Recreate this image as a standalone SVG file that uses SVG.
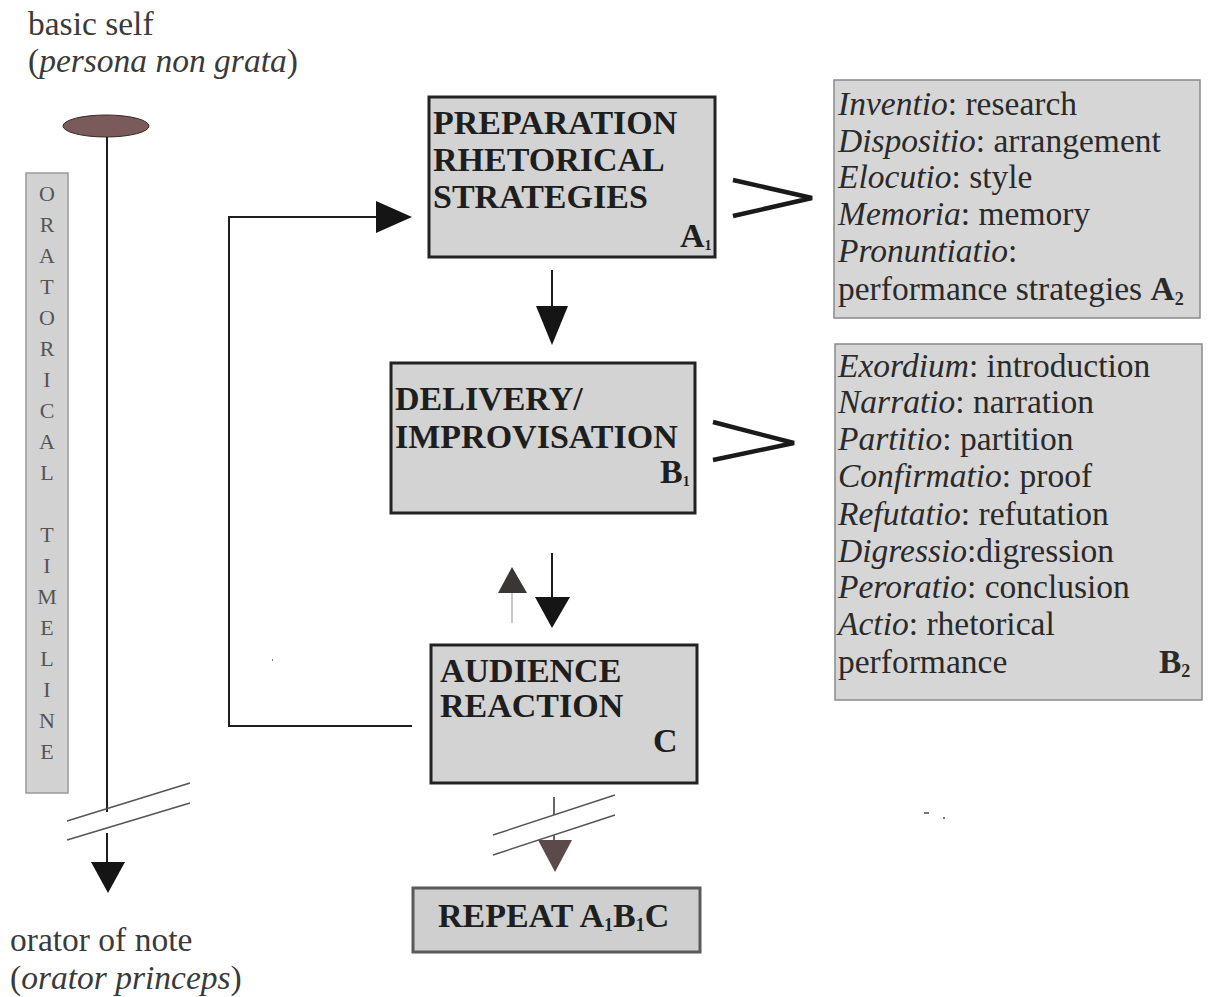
<svg xmlns="http://www.w3.org/2000/svg" width="1210" height="997" viewBox="0 0 1210 997">
<style>
  .title { font-family: "Liberation Serif", "Times New Roman", serif; font-weight: bold; font-size: 34px; fill: #1e1e1e; }
  .list { font-family: "Liberation Serif", "Times New Roman", serif; font-size: 33.5px; fill: #2a2a2a; }
  .label { font-family: "Liberation Serif", "Times New Roman", serif; font-size: 33.5px; fill: #3a3a3a; }
  .tl { font-family: "Liberation Serif", "Times New Roman", serif; font-size: 22px; fill: #555; text-anchor: middle; }
  .box { fill: #d3d3d3; stroke: #222; stroke-width: 3; }
  .panel { fill: #d6d6d6; stroke: #8a8a8a; stroke-width: 1.5; }
  .conn { stroke: #1e1e1e; stroke-width: 2; fill: none; }
  .brk { stroke: #555; stroke-width: 1.5; fill: none; }
  .chev { stroke: #1a1a1a; stroke-width: 4.5; fill: none; stroke-linejoin: miter; }
  .head { fill: #151515; }
</style>
<rect width="1210" height="997" fill="#ffffff"/>

<g id="top-label">
  <text class="label" x="28" y="35">basic self</text>
  <text class="label" x="28" y="72">(<tspan font-style="italic">persona non grata</tspan>)</text>
</g>

<g id="bottom-label">
  <text class="label" x="10" y="951">orator of note</text>
  <text class="label" x="10" y="989">(<tspan font-style="italic">orator princeps</tspan>)</text>
</g>

<g id="timeline-start">
  <ellipse cx="106" cy="126" rx="43" ry="11" fill="#7a5a5a" stroke="#3a2a2a" stroke-width="1"/>
</g>

<g id="timeline-label">
  <rect x="26" y="173" width="42" height="620" fill="#d2d2d2" stroke="#9a9a9a" stroke-width="1.5"/>
  <text class="tl" x="47" y="201">O</text>
  <text class="tl" x="47" y="232">R</text>
  <text class="tl" x="47" y="263">A</text>
  <text class="tl" x="47" y="294">T</text>
  <text class="tl" x="47" y="325">O</text>
  <text class="tl" x="47" y="356">R</text>
  <text class="tl" x="47" y="387">I</text>
  <text class="tl" x="47" y="418">C</text>
  <text class="tl" x="47" y="449">A</text>
  <text class="tl" x="47" y="480">L</text>
  <text class="tl" x="47" y="542">T</text>
  <text class="tl" x="47" y="573">I</text>
  <text class="tl" x="47" y="604">M</text>
  <text class="tl" x="47" y="635">E</text>
  <text class="tl" x="47" y="666">L</text>
  <text class="tl" x="47" y="697">I</text>
  <text class="tl" x="47" y="728">N</text>
  <text class="tl" x="47" y="759">E</text>
</g>

<g id="node-A1">
  <rect class="box" x="429" y="97" width="286" height="160"/>
  <text class="title" x="433" y="134">PREPARATION</text>
  <text class="title" x="433" y="171">RHETORICAL</text>
  <text class="title" x="433" y="208">STRATEGIES</text>
  <text class="title" x="680" y="247" font-size="24">A<tspan font-size="14" dy="3">1</tspan></text>
</g>

<g id="node-A2">
  <rect class="panel" x="834" y="80" width="366" height="238"/>
  <text class="list" x="838" y="115"><tspan font-style="italic">Inventio</tspan>: research</text>
  <text class="list" x="838" y="152"><tspan font-style="italic">Dispositio</tspan>: arrangement</text>
  <text class="list" x="838" y="188"><tspan font-style="italic">Elocutio</tspan>: style</text>
  <text class="list" x="838" y="225"><tspan font-style="italic">Memoria</tspan>: memory</text>
  <text class="list" x="838" y="262"><tspan font-style="italic">Pronuntiatio</tspan>:</text>
  <text class="list" x="838" y="300">performance strategies <tspan font-weight="bold">A</tspan><tspan font-weight="bold" font-size="18" dy="5">2</tspan></text>
</g>

<g id="node-B1">
  <rect class="box" x="391" y="363" width="304" height="150"/>
  <text class="title" x="395" y="410">DELIVERY/</text>
  <text class="title" x="395" y="448">IMPROVISATION</text>
  <text class="title" x="660" y="483" font-size="24">B<tspan font-size="14" dy="3">1</tspan></text>
</g>

<g id="node-B2">
  <rect class="panel" x="835" y="344" width="367" height="356"/>
  <text class="list" x="838" y="377"><tspan font-style="italic">Exordium</tspan>: introduction</text>
  <text class="list" x="838" y="413"><tspan font-style="italic">Narratio</tspan>: narration</text>
  <text class="list" x="838" y="450"><tspan font-style="italic">Partitio</tspan>: partition</text>
  <text class="list" x="838" y="487"><tspan font-style="italic">Confirmatio</tspan>: proof</text>
  <text class="list" x="838" y="525"><tspan font-style="italic">Refutatio</tspan>: refutation</text>
  <text class="list" x="838" y="562"><tspan font-style="italic">Digressio</tspan>:digression</text>
  <text class="list" x="838" y="598"><tspan font-style="italic">Peroratio</tspan>: conclusion</text>
  <text class="list" x="838" y="635"><tspan font-style="italic">Actio</tspan>: rhetorical</text>
  <text class="list" x="838" y="673">performance</text>
  <text class="list" x="1159" y="673" font-weight="bold">B<tspan font-size="18" dy="4">2</tspan></text>
</g>

<g id="node-C">
  <rect class="box" x="431" y="645" width="266" height="138"/>
  <text class="title" x="440" y="682">AUDIENCE</text>
  <text class="title" x="440" y="717" fill="#3a3a3a">REACTION</text>
  <text class="title" x="653" y="752" font-size="24">C</text>
</g>

<g id="node-repeat">
  <rect x="413" y="888" width="287" height="64" fill="#cfcfcf" stroke="#5a5a5a" stroke-width="3"/>
  <text class="title" x="438" y="927" font-size="33" fill="#444">REPEAT A<tspan font-size="18" dy="4">1</tspan><tspan dy="-4" fill="#222">B</tspan><tspan font-size="18" dy="4" fill="#222">1</tspan><tspan dy="-4" fill="#222">C</tspan></text>
</g>

<g id="connectors">
  <line class="conn" x1="107" y1="137" x2="107" y2="812"/>
  <line class="conn" x1="107" y1="833" x2="107" y2="863"/>
  <line class="brk" x1="67" y1="821" x2="190" y2="783"/>
  <line class="brk" x1="67" y1="840" x2="190" y2="803"/>
  <polygon class="head" points="91,862 125,862 108,893"/>

  <polyline class="conn" points="412,726 229,726 229,217 378,217"/>
  <polygon class="head" points="376,201 412,217 376,233"/>

  <line class="conn" x1="552" y1="270" x2="552" y2="307"/>
  <polygon class="head" points="536,306 568,306 552,345"/>

  <line class="conn" x1="552" y1="553" x2="552" y2="598"/>
  <polygon class="head" points="535,597 570,597 552,628"/>

  <line x1="512" y1="593" x2="512" y2="623" stroke="#b5b5b5" stroke-width="1.5"/>
  <polygon points="498,593 527,593 512,567" fill="#3a3636"/>

  <line x1="554" y1="797" x2="554" y2="815" stroke="#666" stroke-width="2"/>
  <line x1="554" y1="835" x2="554" y2="841" stroke="#666" stroke-width="2"/>
  <line class="brk" x1="493" y1="835" x2="615" y2="795"/>
  <line class="brk" x1="493" y1="855" x2="615" y2="815"/>
  <polygon points="538,840 572,840 555,872" fill="#5c4a4a"/>

  <polyline class="chev" points="733,180 812,198 733,216"/>
  <polyline class="chev" points="713,422 794,443 713,460"/>
</g>

<g id="specks" stroke="#777" stroke-width="2">
  <line x1="924" y1="813" x2="929" y2="813"/>
  <line x1="943" y1="818" x2="945" y2="818"/>
  <line x1="272" y1="660" x2="273" y2="660"/>
</g>
</svg>
